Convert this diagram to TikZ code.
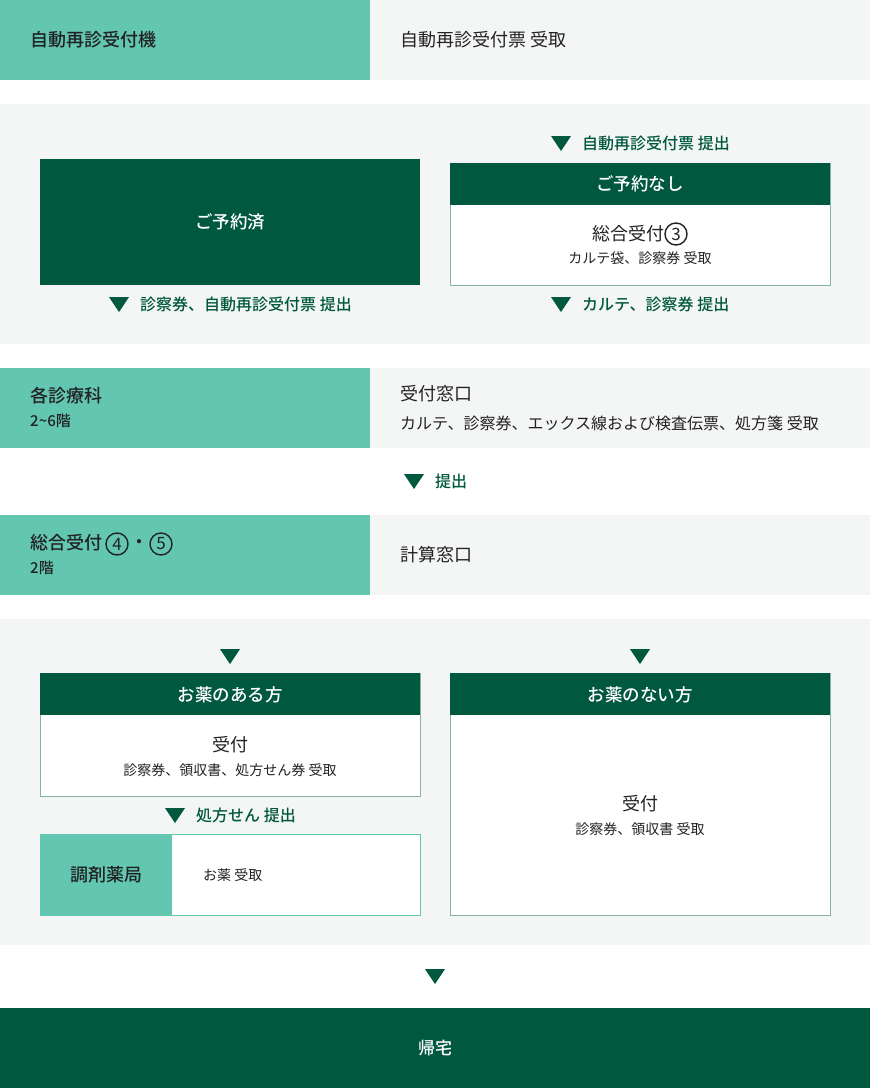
\documentclass[tikz,border=0pt]{standalone}
\usepackage{fontspec}
\setmainfont{Noto Sans CJK JP}[BoldFont={Noto Sans CJK JP Bold}]
\newfontfamily\medfont{Noto Sans CJK JP Medium}
\usetikzlibrary{positioning}

\definecolor{mint}{HTML}{62C6B1}
\definecolor{forest}{HTML}{00583E}
\definecolor{paper}{HTML}{F4F6F5}
\definecolor{ink}{HTML}{222222}
\definecolor{edge}{HTML}{86B3A4}

\tikzset{
  block/.style={anchor=north west, inner sep=0pt, outer sep=0pt},
  title/.style={font=\medfont\fontsize{18}{20}\selectfont, text=ink, inner sep=0pt},
  plain/.style={font=\fontsize{18}{20}\selectfont, text=ink, inner sep=0pt},
  sub/.style={font=\fontsize{14}{16}\selectfont, text=ink, inner sep=0pt},
  floor/.style={font=\medfont\fontsize{15}{18}\selectfont, text=ink, inner sep=0pt, anchor=west},
  note/.style={font=\medfont\fontsize{16}{18}\selectfont, text=forest, inner sep=0pt},
  head/.style={block, fill=forest, minimum width=380pt, minimum height=42pt},
  headtext/.style={text=white, font=\medfont\fontsize{17.5}{20}\selectfont, inner sep=0pt},
  ring/.style={circle, draw=ink, line width=1.4pt, minimum size=22pt, inner sep=0pt,
    text=ink, font=\fontsize{17}{18}\selectfont},
}
\newcommand\downtri[1]{\fill[forest] ([shift={(-10,-7)}]#1) -- ([shift={(10,-7)}]#1) -- ([shift={(0,8)}]#1) -- cycle;}

\begin{document}
\begin{tikzpicture}[x=1pt, y=-1pt]
  \useasboundingbox (0,0) rectangle (870,1088);

  % row 1
  \node[block, fill=mint, minimum width=370pt, minimum height=80pt] (kiosk) at (0,0) {};
  \node[block, fill=paper, minimum width=500pt, minimum height=80pt] (kioskr) at (370,0) {};
  \node[title, anchor=west] (kioskt) at (30,40) {自動再診受付機};
  \node[plain, anchor=west] (kioskrt) at (400,40) {自動再診受付票 受取};

  % reservation panel
  \node[block, fill=paper, minimum width=870pt, minimum height=240pt] (panel1) at (0,104) {};
  \node[block, fill=forest, minimum width=380pt, minimum height=126pt] (booked) at (40,159) {};
  \node[headtext] (bookedt) at (230,222) {ご予約済};
  \node[block, fill=white, draw=edge, minimum width=380pt, minimum height=122pt] (walkin) at (450,163) {};
  \node[head] (walkinh) at (450,163) {};
  \node[headtext] (walkinht) at (640,184) {ご予約なし};
  \node[plain, anchor=west] (desk3) at (592,234) {総合受付};
  \node[ring] (no3) at (676,234) {3};
  \node[sub] (desk3s) at (640,258) {カルテ袋、診察券 受取};

  \coordinate (t1) at (561,143);
  \coordinate (t2) at (119,304);
  \coordinate (t3) at (561,304);
  \downtri{t1} \downtri{t2} \downtri{t3}
  \node[note, right=21pt of t1] (n1) {自動再診受付票 提出};
  \node[note, right=21pt of t2] (n2) {診察券、自動再診受付票 提出};
  \node[note, right=21pt of t3] (n3) {カルテ、診察券 提出};

  % row 3
  \node[block, fill=mint, minimum width=370pt, minimum height=80pt] (dept) at (0,368) {};
  \node[block, fill=paper, minimum width=500pt, minimum height=80pt] (deptr) at (370,368) {};
  \node[title, anchor=west] (deptt) at (30,396) {各診療科};
  \node[floor] (deptf) at (30,421) {2\textasciitilde6階};
  \node[plain, anchor=west] (deptrt) at (400,394) {受付窓口};
  \node[plain, anchor=west, font=\fontsize{16}{18}\selectfont] (deptrs) at (400,423) {カルテ、診察券、エックス線および検査伝票、処方箋 受取};

  \coordinate (t4) at (414,481);
  \downtri{t4}
  \node[note, right=21pt of t4] (n4) {提出};

  % row 4
  \node[block, fill=mint, minimum width=370pt, minimum height=80pt] (desk45) at (0,515) {};
  \node[block, fill=paper, minimum width=500pt, minimum height=80pt] (calc) at (370,515) {};
  \node[title, anchor=west] (desk45t) at (30,543) {総合受付};
  \node[ring] (no4) at (117,544) {4};
  \node[title] (dot) at (139,544) {・};
  \node[ring] (no5) at (161,544) {5};
  \node[floor] (desk45f) at (30,568) {2階};
  \node[plain, anchor=west] (calct) at (400,555) {計算窓口};

  % medicine panel
  \node[block, fill=paper, minimum width=870pt, minimum height=326pt] (panel2) at (0,619) {};
  \coordinate (t5) at (230,656);
  \coordinate (t6) at (640,656);
  \downtri{t5} \downtri{t6}

  \node[block, fill=white, draw=edge, minimum width=380pt, minimum height=123pt] (withmed) at (40,673) {};
  \node[head] (withmedh) at (40,673) {};
  \node[headtext] (withmedht) at (230,695) {お薬のある方};
  \node[plain] (withmedt) at (230,745) {受付};
  \node[sub] (withmeds) at (230,770) {診察券、領収書、処方せん券 受取};

  \coordinate (t7) at (175,815);
  \downtri{t7}
  \node[note, right=21pt of t7] (n7) {処方せん 提出};

  \node[block, fill=white, draw=mint, minimum width=380pt, minimum height=81pt] (pharm) at (40,834) {};
  \node[block, fill=mint, minimum width=132pt, minimum height=81pt] (pharml) at (40,834) {};
  \node[title] (pharmt) at (106,875) {調剤薬局};
  \node[sub, anchor=west] (pharms) at (203,875) {お薬 受取};

  \node[block, fill=white, draw=edge, minimum width=380pt, minimum height=242pt] (nomed) at (450,673) {};
  \node[head] (nomedh) at (450,673) {};
  \node[headtext] (nomedht) at (640,695) {お薬のない方};
  \node[plain] (nomedt) at (640,804) {受付};
  \node[sub] (nomeds) at (640,829) {診察券、領収書 受取};

  \coordinate (t8) at (435,976);
  \downtri{t8}

  % home
  \node[block, fill=forest, minimum width=870pt, minimum height=80pt] (home) at (0,1008) {};
  \node[headtext, font=\medfont\fontsize{17}{20}\selectfont] (homet) at (435,1048) {帰宅};
\end{tikzpicture}
\end{document}
